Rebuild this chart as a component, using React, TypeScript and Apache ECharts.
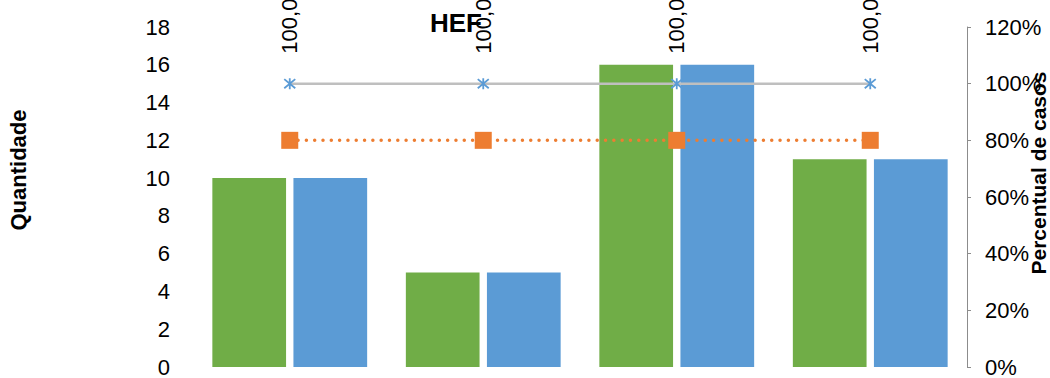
import React, { useEffect, useRef } from "react";
import * as echarts from "echarts";

const categories = ["1", "2", "3", "4"];
const greenValues = [10, 5, 16, 11];
const blueValues = [10, 5, 16, 11];
const grayLineValues = [1.0, 1.0, 1.0, 1.0];
const orangeLineValues = [0.8, 0.8, 0.8, 0.8];
const leftTicks = { min: 0, max: 18, interval: 2 };
const rightTicks = { min: 0, max: 1.2, interval: 0.2 };

const FONT = "'Liberation Sans Narrow', 'Arial Narrow', 'Liberation Sans', sans-serif";

export default function App() {
  const ref = useRef<HTMLDivElement>(null);
  useEffect(() => {
    document.body.style.margin = "0";
    const chart = echarts.init(ref.current!, null, { renderer: "svg" });
    chart.setOption({
      animation: false,
      textStyle: { fontFamily: FONT },
      grid: { left: 193, right: 83, top: 27, bottom: 8, containLabel: false },
      graphic: [
        {
          type: "text",
          x: 456,
          y: 23,
          style: {
            text: "HEF",
            font: `bold 26px ${FONT}`,
            fill: "#000",
            align: "center",
            verticalAlign: "middle",
          },
        },
        {
          type: "text",
          x: 18,
          y: 170,
          rotation: Math.PI / 2,
          style: {
            text: "Quantidade",
            font: `bold 22px ${FONT}`,
            fill: "#000",
            align: "center",
            verticalAlign: "middle",
          },
        },
        {
          type: "text",
          x: 1038,
          y: 173,
          rotation: Math.PI / 2,
          style: {
            text: "Percentual de casos",
            font: `bold 21px ${FONT}`,
            fill: "#000",
            align: "center",
            verticalAlign: "middle",
          },
        },
      ],
      xAxis: {
        type: "category",
        data: categories,
        axisLine: { show: false },
        axisTick: { show: false },
        axisLabel: { show: false },
      },
      yAxis: [
        {
          type: "value",
          min: leftTicks.min,
          max: leftTicks.max,
          interval: leftTicks.interval,
          axisLine: { show: false },
          axisTick: { show: false },
          splitLine: { show: false },
          axisLabel: { color: "#000", fontSize: 22, margin: 23, fontFamily: FONT },
        },
        {
          type: "value",
          min: rightTicks.min,
          max: rightTicks.max,
          interval: rightTicks.interval,
          position: "right",
          axisLine: { show: true, lineStyle: { color: "#8C8C8C", width: 1 } },
          axisTick: { show: true, length: 4, lineStyle: { color: "#8C8C8C" } },
          splitLine: { show: false },
          axisLabel: {
            color: "#000",
            fontSize: 22,
            margin: 18,
            fontFamily: FONT,
            formatter: (v: number) => `${Math.round(v * 100)}%`,
          },
        },
      ],
      series: [
        {
          name: "Série A",
          type: "bar",
          yAxisIndex: 0,
          data: greenValues,
          barCategoryGap: "20%",
          barGap: "10%",
          itemStyle: { color: "#70AD47" },
        },
        {
          name: "Série B",
          type: "bar",
          yAxisIndex: 0,
          data: blueValues,
          barCategoryGap: "20%",
          barGap: "10%",
          itemStyle: { color: "#5B9BD5" },
        },
        {
          name: "Percentual 1",
          type: "line",
          yAxisIndex: 1,
          data: grayLineValues,
          lineStyle: { color: "#BFBFBF", width: 2.5 },
          symbol: "path://M0,0L10,10M10,0L0,10M5,-1L5,11",
          symbolSize: 11,
          itemStyle: { color: "none", borderColor: "#5B9BD5", borderWidth: 1.8 },
          label: {
            show: true,
            position: "top",
            distance: 22,
            rotate: 90,
            align: "left",
            verticalAlign: "middle",
            color: "#000",
            fontSize: 22,
            fontFamily: FONT,
            formatter: (p: any) => (p.value * 100).toFixed(2).replace(".", ",") + "%",
          },
        },
        {
          name: "Percentual 2",
          type: "line",
          yAxisIndex: 1,
          data: orangeLineValues,
          lineStyle: { color: "#ED7D31", width: 3.5, type: [0.01, 8.3], cap: "round" },
          symbol: "rect",
          symbolSize: 17,
          itemStyle: { color: "#ED7D31" },
        },
      ],
    });
    return () => chart.dispose();
  }, []);
  return <div ref={ref} style={{ width: 1050, height: 378 }} />;
}
